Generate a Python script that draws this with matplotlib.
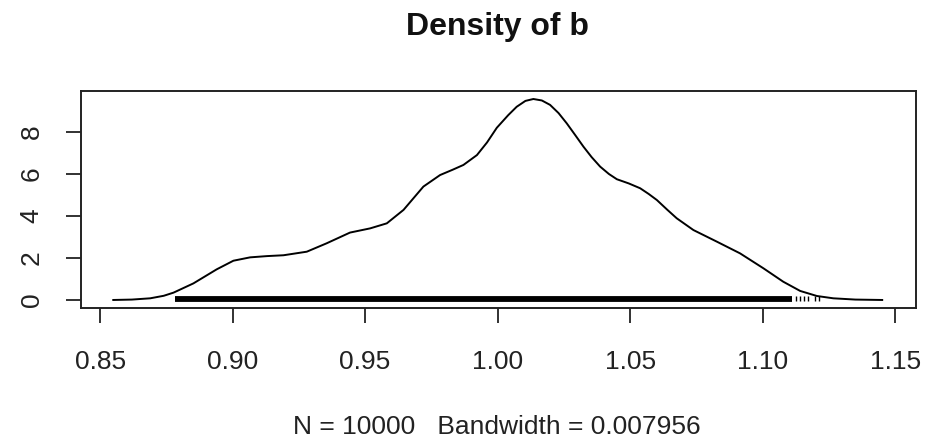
#!/usr/bin/env python3
"""Kernel density plot of the posterior draws of b, drawn in base-R style."""

import matplotlib
matplotlib.use("Agg")
import matplotlib.pyplot as plt

plt.rcParams["font.family"] = ["Liberation Sans", "DejaVu Sans"]

# Estimated density curve (x value, density)
b_grid = [0.8546, 0.8620, 0.8689, 0.8740, 0.8777, 0.8852, 0.8940, 0.9003,
          0.9066, 0.9130, 0.9192, 0.9280, 0.9355, 0.9443, 0.9519, 0.9582,
          0.9645, 0.9720, 0.9783, 0.9830, 0.9871, 0.9922, 0.9960, 0.9997,
          1.0040, 1.0072, 1.0105, 1.0135, 1.0167, 1.0198, 1.0230, 1.0261,
          1.0293, 1.0324, 1.0355, 1.0387, 1.0420, 1.0450, 1.0495, 1.0538,
          1.0570, 1.0601, 1.0640, 1.0676, 1.0739, 1.0827, 1.0915, 1.1003,
          1.1078, 1.1142, 1.1205, 1.1267, 1.1350, 1.1455]
b_density = [0.00, 0.02, 0.08, 0.20, 0.35, 0.79, 1.46, 1.87,
             2.03, 2.09, 2.13, 2.30, 2.70, 3.21, 3.41, 3.65,
             4.29, 5.40, 5.95, 6.20, 6.43, 6.90, 7.50, 8.20,
             8.80, 9.20, 9.48, 9.57, 9.50, 9.29, 8.90, 8.41,
             7.85, 7.30, 6.80, 6.35, 6.00, 5.75, 5.55, 5.32,
             5.05, 4.76, 4.30, 3.89, 3.33, 2.78, 2.22, 1.51,
             0.87, 0.43, 0.19, 0.08, 0.02, 0.00]

# Observation rug: dense core span plus the sparse upper tail
rug_span = [0.8783, 1.1110]
rug_tail = [1.1125, 1.1140, 1.1158, 1.1172, 1.1196, 1.1212]

x_ticks = [0.85, 0.90, 0.95, 1.00, 1.05, 1.10, 1.15]
y_ticks = [0, 2, 4, 6, 8]

n_obs = 10000
bandwidth = 0.007956

fig = plt.figure(figsize=(9.25, 4.41), dpi=100)
ax = fig.add_axes([0.0876, 0.3016, 0.9027, 0.4921])

ax.plot(b_grid, b_density, color="black", lw=1.4,
        solid_joinstyle="round", solid_capstyle="butt")

# rug drawn as short vertical marks sitting on zero
ax.hlines(0.05, rug_span[0], rug_span[1], color="black", lw=4.2)
ax.vlines(rug_tail, -0.07, 0.17, color="black", lw=1.0)

ax.set_xlim(0.8428, 1.1579)
ax.set_ylim(-0.381, 9.952)

ax.set_xticks(x_ticks)
ax.set_xticklabels([f"{v:.2f}" for v in x_ticks])
ax.set_yticks(y_ticks)
ax.set_yticklabels([str(v) for v in y_ticks], rotation=90, va="center")

ax.tick_params(axis="both", direction="out", length=11, width=1.3,
               labelsize=19, colors="#222222")
ax.tick_params(axis="x", pad=19)
ax.tick_params(axis="y", pad=16)

for sp in ax.spines.values():
    sp.set_linewidth(1.4)
    sp.set_color("#222222")

fig.text(0.538, 0.938, "Density of b", ha="center", va="center",
         fontsize=23, fontweight="bold", color="#111111")
fig.text(0.537, 0.031, f"N = {n_obs}   Bandwidth = {bandwidth:g}",
         ha="center", va="center", fontsize=19, color="#222222")

fig.savefig("out.png", dpi=100)
